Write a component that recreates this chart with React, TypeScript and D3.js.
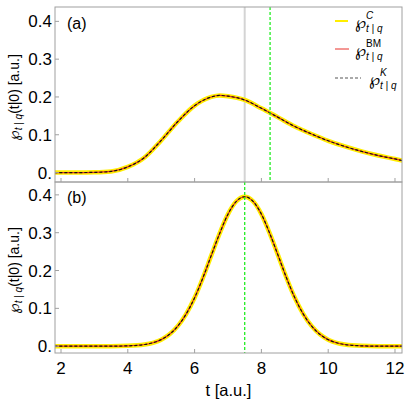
import React from "react";
import * as d3 from "d3";

const W = 409;
const H = 401;

// panel (a): arrival-time density
const tA = [1.8, 2.5, 3.0, 3.5, 4.0, 4.5, 5.0, 5.5, 6.0, 6.5, 6.75, 7.0, 7.5, 8.0, 8.5, 9.0, 9.5, 10.0, 10.5, 11.0, 11.5, 12.0, 12.25];
const pA = [0, 0, 0.0005, 0.003, 0.015, 0.04, 0.085, 0.135, 0.177, 0.2, 0.204, 0.202, 0.192, 0.17, 0.146, 0.122, 0.102, 0.084, 0.069, 0.056, 0.045, 0.036, 0.031];

// panel (b)
const tB = [1.8, 3.5, 4.0, 4.5, 4.75, 5.0, 5.25, 5.5, 5.75, 6.0, 6.25, 6.5, 6.75, 7.0, 7.25, 7.5, 7.75, 8.0, 8.25, 8.5, 8.75, 9.0, 9.25, 9.5, 9.75, 10.0, 10.25, 10.5, 11.0, 11.5, 12.25];
const pB = [0, 0.0001, 0.0009, 0.0044, 0.009, 0.0173, 0.0314, 0.0535, 0.0855, 0.128, 0.181, 0.24, 0.298, 0.349, 0.383, 0.395, 0.383, 0.349, 0.298, 0.24, 0.181, 0.128, 0.0855, 0.0535, 0.0314, 0.0173, 0.009, 0.0044, 0.0009, 0.0001, 0];

const xTicks = [2, 4, 6, 8, 10, 12];
const yTicks = [0, 0.1, 0.2, 0.3, 0.4];
const yTickLabels = ["0.", "0.1", "0.2", "0.3", "0.4"];

const vLinesA = [{ t: 7.5, kind: "gray" }, { t: 8.26, kind: "green" }];
const vLinesB = [{ t: 7.5, kind: "green" }];

const font = "'Liberation Sans', Arial, 'DejaVu Sans', sans-serif";
const pFont = "'DejaVu Sans', sans-serif";

const x = d3.scaleLinear().domain([1.82, 12.21]).range([55, 402]);

const panels = [
  { id: "a", label: "(a)", t: tA, p: pA, y: d3.scaleLinear().domain([-0.025, 0.438]).range([182, 7]), vlines: vLinesA, labelY: 29 },
  { id: "b", label: "(b)", t: tB, p: pB, y: d3.scaleLinear().domain([-0.018, 0.434]).range([353, 182]), vlines: vLinesB, labelY: 203 },
];

const Wp = ({ x: px, y: py, sup }: { x: number; y: number; sup: string }) => (
  <g>
    <text x={px} y={py} fontFamily={pFont} fontSize={16}>℘</text>
    <text x={px + 11} y={py - 9} fontFamily={font} fontSize={10} fontStyle={sup === "BM" ? "normal" : "italic"}>{sup}</text>
    <text x={px + 11} y={py + 4} fontFamily={font} fontSize={10} fontStyle="italic">t | q</text>
  </g>
);

const App = () => {
  return (
    <svg width={W} height={H} style={{ position: "absolute", left: 0, top: 0, background: "white" }}>
      <defs>
        {panels.map((pn) => (
          <clipPath id={"clip" + pn.id} key={pn.id}>
            <rect x={x.range()[0]} y={pn.y.range()[1]} width={x.range()[1] - x.range()[0]} height={pn.y.range()[0] - pn.y.range()[1]} />
          </clipPath>
        ))}
      </defs>
      {panels.map((pn) => {
        const [x0, x1] = x.range();
        const [yb, yt] = pn.y.range();
        const line = d3
          .line<number>()
          .x((_, i) => x(pn.t[i]))
          .y((d) => pn.y(d))
          .curve(d3.curveMonotoneX);
        const path = line(pn.p) || "";
        const yc = (yb + yt) / 2 + 3;
        return (
          <g key={pn.id}>
            <g clipPath={`url(#clip${pn.id})`}>
              {pn.vlines.map((v, i) =>
                v.kind === "gray" ? (
                  <line key={i} x1={x(v.t)} x2={x(v.t)} y1={yt} y2={yb} stroke="#d4d4d4" strokeWidth={2} />
                ) : null
              )}
              <path d={path} fill="none" stroke="#ffee00" strokeWidth={4.5} />
              <path d={path} fill="none" stroke="#e8302a" strokeWidth={1.2} />
              <path d={path} fill="none" stroke="#111" strokeWidth={1.2} strokeDasharray="3,2" />
              {pn.vlines.map((v, i) =>
                v.kind === "green" ? (
                  <line key={i} x1={x(v.t)} x2={x(v.t)} y1={yt} y2={yb} stroke="#22ee22" strokeWidth={1.3} strokeDasharray="3,2" />
                ) : null
              )}
            </g>
            <rect x={x0} y={yt} width={x1 - x0} height={yb - yt} fill="none" stroke="#a0a0a0" strokeWidth={1} />
            {xTicks.map((t) => (
              <line key={t} x1={x(t)} x2={x(t)} y1={yb} y2={yb - 4} stroke="#a0a0a0" />
            ))}
            {yTicks.map((v, i) => (
              <g key={v}>
                <line x1={x0} x2={x0 + 4} y1={pn.y(v)} y2={pn.y(v)} stroke="#a0a0a0" />
                <text x={52} y={pn.y(v) + 6} textAnchor="end" fontFamily={font} fontSize={17}>
                  {yTickLabels[i]}
                </text>
              </g>
            ))}
            <text x={67} y={pn.labelY} fontFamily={font} fontSize={16}>{pn.label}</text>
            <text transform={`translate(19,${yc}) rotate(-90)`} textAnchor="middle" fontFamily={font} fontSize={14}>
              <tspan fontFamily={pFont} fontSize={15}>℘</tspan>
              <tspan fontSize={10} fontStyle="italic" dy={3}>t | q</tspan>
              <tspan dy={-3}>(t|0) [a.u.]</tspan>
            </text>
          </g>
        );
      })}
      {xTicks.map((t) => (
        <text key={t} x={x(t)} y={374} textAnchor="middle" fontFamily={font} fontSize={17}>{t}</text>
      ))}
      <text x={228.5} y={396} textAnchor="middle" fontFamily={font} fontSize={16.5}>t [a.u.]</text>
      {/* legend */}
      <line x1={335} x2={348} y1={21} y2={21} stroke="#ffee00" strokeWidth={2} />
      <Wp x={355} y={28} sup="C" />
      <line x1={335} x2={349} y1={49} y2={49} stroke="#e8302a" strokeWidth={1} />
      <Wp x={355} y={56} sup="BM" />
      <line x1={335} x2={361} y1={78} y2={78} stroke="#555" strokeWidth={1} strokeDasharray="3,2" />
      <Wp x={369} y={85} sup="K" />
    </svg>
  );
};

export default App;
